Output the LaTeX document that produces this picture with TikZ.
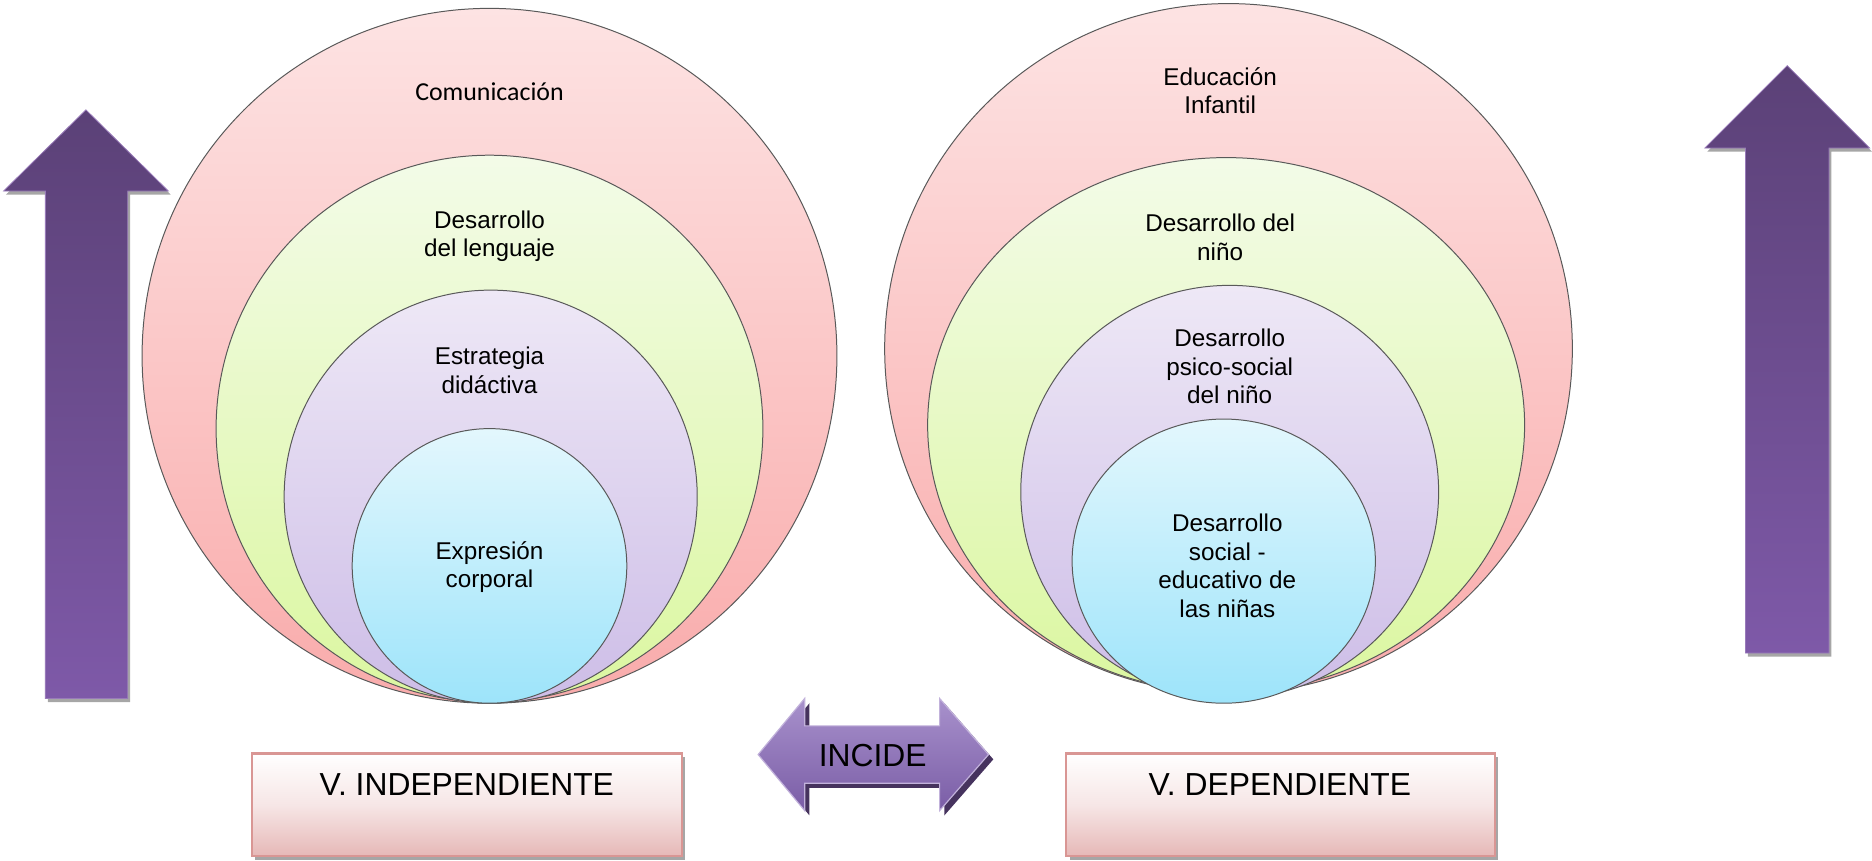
\documentclass[tikz,border=0pt]{standalone}
\usepackage{fontspec}
\setmainfont{Liberation Sans}
\newfontfamily\calfont{Carlito}
\definecolor{pinkT}{HTML}{FDE3E3}
\definecolor{pinkB}{HTML}{F9ABAB}
\definecolor{greenT}{HTML}{F3FBE8}
\definecolor{greenB}{HTML}{DBF7A0}
\definecolor{lavT}{HTML}{EEE8F6}
\definecolor{lavB}{HTML}{CDBDE7}
\definecolor{blueT}{HTML}{E3F7FD}
\definecolor{blueB}{HTML}{9DE4FA}
\definecolor{arrT}{HTML}{5B4177}
\definecolor{arrB}{HTML}{7E59A8}
\definecolor{incT}{HTML}{A891CC}
\definecolor{incB}{HTML}{7A5DA6}
\definecolor{incS}{HTML}{46335E}
\definecolor{boxLine}{HTML}{D99694}
\definecolor{boxB}{HTML}{E6B8B7}
\definecolor{shadowgray}{HTML}{A6A6A6}
\tikzset{
  ringline/.style={draw=black!65, line width=0.5pt},
  pinkring/.style={ringline, top color=pinkT, bottom color=pinkB},
  greenring/.style={ringline, top color=greenT, bottom color=greenB},
  lavring/.style={ringline, top color=lavT, bottom color=lavB},
  bluering/.style={ringline, top color=blueT, bottom color=blueB},
  bigarrow/.style={top color=arrT, bottom color=arrB, draw=arrB!80!white, line width=0.4pt},
  arrowshadow/.style={fill=shadowgray},
  varbox/.style={draw=boxLine, line width=1.2pt, top color=white, bottom color=boxB, middle color=boxB!35!white},
  lbl/.style={align=center, font=\fontsize{12.2}{14.4}\selectfont, inner sep=0pt},
  boxlbl/.style={font=\fontsize{16}{19}\selectfont, inner sep=0pt},
}
\begin{document}
\begin{tikzpicture}[x=0.6pt, y=-0.6pt]
\useasboundingbox (0,0) rectangle (1568,721);

% ---- left vertical arrow
\fill[arrowshadow] (74,95) -- (143,163) -- (109,163) -- (109,588) -- (40,588) -- (40,163) -- (5,163) -- cycle;
\path[bigarrow] (72,92) -- (141,160) -- (107,160) -- (107,585) -- (38,585) -- (38,160) -- (3,160) -- cycle;

% ---- right vertical arrow
\fill[arrowshadow] (1499,58) -- (1568,127) -- (1534,127) -- (1534,550) -- (1464,550) -- (1464,127) -- (1430,127) -- cycle;
\path[bigarrow] (1497,55) -- (1566,124) -- (1532,124) -- (1532,547) -- (1462,547) -- (1462,124) -- (1428,124) -- cycle;

% ---- left nested circles
\coordinate (lc1) at (410,298);
\coordinate (lc2) at (410,359);
\coordinate (lc3) at (411,416);
\coordinate (lc4) at (410,474);
\path[pinkring] (lc1) circle[radius=291];
\path[greenring] (lc2) circle[radius=229];
\path[lavring] (lc3) circle[radius=173];
\path[bluering] (lc4) circle[radius=115];

% ---- right nested circles
\coordinate (rc1) at (1029,292);
\coordinate (rc2) at (1027,356);
\coordinate (rc3) at (1030,412);
\coordinate (rc4) at (1025,470);
\path[pinkring] (rc1) ellipse[x radius=288, y radius=289];
\path[greenring] (rc2) ellipse[x radius=250, y radius=224];
\path[lavring] (rc3) ellipse[x radius=175, y radius=173];
\path[bluering] (rc4) ellipse[x radius=127, y radius=119];

% ---- circle labels
\node[inner sep=0pt, font=\calfont\fontsize{13}{15}\selectfont] (t1) at (410,77) {Comunicación};
\node[lbl] (t2) at (410,198) {Desarrollo\\del lenguaje};
\node[lbl] (t3) at (410,310) {Estrategia\\didáctiva};
\node[lbl] (t4) at (410,475) {Expresión\\corporal};
\node[lbl] (u1) at (1022,76) {Educación\\Infantil};
\node[lbl] (u2) at (1022,199) {Desarrollo del\\niño};
\node[lbl] (u3) at (1030,307) {Desarrollo\\psico-social\\del niño};
\node[lbl] (u4) at (1028,474) {Desarrollo\\social -\\educativo de\\las niñas};

% ---- INCIDE double arrow
\fill[incS] (639,636) -- (678,589) -- (678,612) -- (791,612) -- (791,589) -- (832,636) -- (791,683) -- (791,660) -- (678,660) -- (678,683) -- cycle;
\path[top color=incT, bottom color=incB, draw=incT!70!white, line width=0.6pt]
  (635,632) -- (674,585) -- (674,608) -- (787,608) -- (787,585) -- (828,632) -- (787,679) -- (787,656) -- (674,656) -- (674,679) -- cycle;
\node[boxlbl] (inc) at (731,633) {INCIDE};

% ---- variable boxes
\fill[shadowgray] (214,634) rectangle (574,720);
\path[varbox] (211,631) rectangle (571,717);
\node[boxlbl] (vi) at (391,657) {V. INDEPENDIENTE};
\fill[shadowgray] (896,634) rectangle (1255,720);
\path[varbox] (893,631) rectangle (1252,717);
\node[boxlbl] (vd) at (1072,657) {V. DEPENDIENTE};
\end{tikzpicture}
\end{document}
